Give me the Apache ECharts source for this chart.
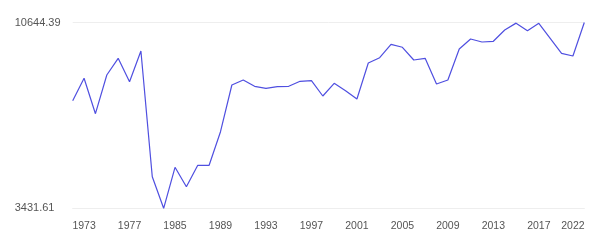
<!DOCTYPE html>
<html>
<head>
<meta charset="utf-8">
<script src="https://cdn.jsdelivr.net/npm/echarts@6/dist/echarts.min.js"></script>
<style>html,body{margin:0;padding:0;background:#fff;}#c{width:605px;height:241px;}</style>
</head>
<body>
<div id="c"></div>
<script>
var years = ['1972','1973','1974','1975','1976','1977','1978','1980','1983','1985','1986','1987','1988','1989','1990','1991','1992','1993','1994','1995','1996','1997','1998','1999','2000','2001','2002','2003','2004','2005','2006','2007','2008','2009','2010','2011','2012','2013','2014','2015','2016','2017','2018','2019','2022','2023'];
var values = [7609,8478,7104,8606,9255,8346,9538,4658,3431.61,5023,4270,5101,5101,6405,8218,8412,8168,8090,8152,8168,8362,8385,7791,8284,7997,7675,9072,9278,9798,9682,9189,9255,8257,8412,9616,10004,9888,9915,10354,10620,10326,10613,10031,9449,9344,10644.39];
var xTickLabels = ['1973','1977','1985','1989','1993','1997','2001','2005','2009','2013','2017','2022'];
var yMin = 3431.61, yMax = 10644.39;

var chart = echarts.init(document.getElementById('c'));
chart.setOption({
  animation: false,
  grid: {left: 72.7, right: 20.7, top: 22.5, bottom: 32.7},
  xAxis: {
    type: 'category',
    data: years,
    boundaryGap: false,
    axisLine: {show: true, lineStyle: {color: '#eeeeee'}},
    axisTick: {show: false},
    axisLabel: {
      interval: function (i, v) { return xTickLabels.indexOf(v) >= 0; },
      color: '#555', fontSize: 10.5, fontFamily: 'Liberation Sans, Arial, sans-serif', margin: 12
    },
    splitLine: {show: false}
  },
  yAxis: {
    type: 'value',
    min: yMin, max: yMax, interval: yMax - yMin,
    axisLine: {show: false},
    axisTick: {show: false},
    axisLabel: {
      color: '#555', fontSize: 11, fontFamily: 'Liberation Sans, Arial, sans-serif',
      align: 'left', margin: 58,
      formatter: function (v) { return v.toFixed(2); }
    },
    splitLine: {show: true, lineStyle: {color: '#eeeeee'}}
  },
  series: [{
    type: 'line',
    data: values,
    symbol: 'none',
    lineStyle: {color: '#4f4fe0', width: 1.2}
  }]
});
</script>
</body>
</html>
